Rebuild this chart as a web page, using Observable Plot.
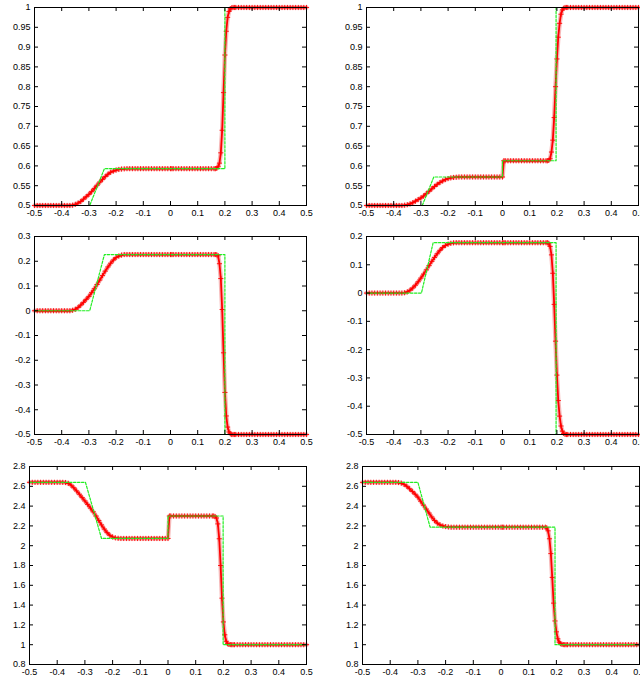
<!DOCTYPE html>
<html>
<head>
<meta charset="utf-8">
<script src="https://cdn.jsdelivr.net/npm/d3@7"></script>
<script src="https://cdn.jsdelivr.net/npm/@observablehq/plot@0.6"></script>
<style>
  html, body { margin: 0; padding: 0; background: #fff; overflow: hidden; }
  #root { position: relative; width: 640px; height: 682px; overflow: hidden; }
  #root > div, #root > svg { position: absolute; }
</style>
</head>
<body>
<div id="root"></div>
<script>
const xGrid = [
  -0.5,-0.49,-0.48,-0.47,-0.46,-0.45,-0.44,-0.43,-0.42,-0.41,-0.4,-0.39,-0.38,
  -0.37,-0.36,-0.35,-0.34,-0.33,-0.32,-0.31,-0.3,-0.29,-0.28,-0.27,-0.26,-0.25,-0.24,-0.23,-0.22,-0.21,-0.2,-0.19,-0.18,-0.17,
  -0.16,-0.15,-0.14,-0.13,-0.12,-0.11,-0.1,-0.09,-0.08,-0.07,-0.06,-0.05,-0.04,-0.03,-0.02,-0.01,0,
  0.005,
  0.01,0.02,0.03,0.04,0.05,0.06,0.07,0.08,0.09,0.1,0.11,0.12,0.13,0.14,0.15,0.16,
  0.165,0.17,0.175,0.18,0.185,0.19,0.195,0.2,0.205,0.21,0.215,0.22,0.225,0.23,0.235,
  0.24,0.25,0.26,0.27,0.28,0.29,0.3,0.31,0.32,0.33,0.34,0.35,0.36,0.37,0.38,0.39,0.4,0.41,0.42,0.43,0.44,0.45,0.46,0.47,0.48,0.49,0.5
];

// Numerical solutions (red), one per panel
const yA = [
  0.5,0.5,0.5,0.5,0.5, 0.5,0.5,0.5,0.5,0.5, 0.5,0.5,0.5,
  0.5,0.5008,0.503,0.506,0.51, 0.516,0.522,0.528,0.535,0.543, 0.551,0.559,0.566,0.573,0.579, 0.584,0.587,0.5895,0.591,0.592, 0.5925,
  0.593,0.593,0.593,0.593,0.593, 0.593,0.593,0.593,0.593,0.593, 0.593,0.593,0.593,0.593,0.593, 0.593,0.593,
  0.593,
  0.593,0.593,0.593,0.593,0.593, 0.593,0.593,0.593,0.593,0.593, 0.593,0.593,0.593,0.593,0.593, 0.593,
  0.593,0.594,0.598,0.607,0.633, 0.69,0.785,0.88,0.94,0.975, 0.99,0.997,0.999,1,1,
  1,1,1,1,1, 1,1,1,1,1, 1,1,1,1,1, 1,1,1,1,1, 1,1,1,1,1, 1,1
];
const yB = [
  0.5,0.5,0.5,0.5,0.5, 0.5,0.5,0.5,0.5,0.5, 0.5,0.5,0.5,
  0.5,0.5008,0.502,0.504,0.507, 0.511,0.515,0.519,0.524,0.53, 0.536,0.542,0.548,0.5535,0.558, 0.562,0.5655,0.568,0.5697,0.5708, 0.5715,
  0.572,0.572,0.572,0.572,0.572, 0.572,0.572,0.572,0.572,0.572, 0.572,0.572,0.572,0.572,0.572, 0.572,0.572,
  0.613,
  0.613,0.613,0.613,0.613,0.613, 0.613,0.613,0.613,0.613,0.613, 0.613,0.613,0.613,0.613,0.613, 0.613,
  0.613,0.614,0.618,0.635,0.665, 0.722,0.8,0.87,0.925,0.96, 0.983,0.994,0.998,1,1,
  1,1,1,1,1, 1,1,1,1,1, 1,1,1,1,1, 1,1,1,1,1, 1,1,1,1,1, 1,1
];
const yC = [
  0,0,0,0,0, 0,0,0,0,0, 0,0,0,
  0,0.002,0.006,0.013,0.023, 0.034,0.046,0.058,0.073,0.089, 0.106,0.124,0.142,0.16,0.177, 0.192,0.205,0.215,0.221,0.225, 0.227,
  0.227,0.227,0.227,0.227,0.227, 0.227,0.227,0.227,0.227,0.227, 0.227,0.227,0.227,0.227,0.227, 0.227,0.227,
  0.227,
  0.227,0.227,0.227,0.227,0.227, 0.227,0.227,0.227,0.227,0.227, 0.227,0.227,0.227,0.227,0.227, 0.227,
  0.227,0.226,0.222,0.19,0.13, 0.005,-0.17,-0.33,-0.425,-0.47, -0.49,-0.497,-0.5,-0.5,-0.5,
  -0.5,-0.5,-0.5,-0.5,-0.5, -0.5,-0.5,-0.5,-0.5,-0.5, -0.5,-0.5,-0.5,-0.5,-0.5, -0.5,-0.5,-0.5,-0.5,-0.5, -0.5,-0.5,-0.5,-0.5,-0.5, -0.5,-0.5
];
const yD = [
  0,0,0,0,0, 0,0,0,0,0, 0,0,0,
  0,0.001,0.004,0.01,0.018, 0.028,0.04,0.053,0.067,0.082, 0.097,0.112,0.126,0.139,0.151, 0.161,0.168,0.173,0.176,0.1775, 0.178,
  0.178,0.178,0.178,0.178,0.178, 0.178,0.178,0.178,0.178,0.178, 0.178,0.178,0.178,0.178,0.178, 0.178,0.178,
  0.178,
  0.178,0.178,0.178,0.178,0.178, 0.178,0.178,0.178,0.178,0.178, 0.178,0.178,0.178,0.178,0.178, 0.178,
  0.178,0.176,0.165,0.135,0.07, -0.04,-0.17,-0.29,-0.38,-0.435, -0.47,-0.488,-0.496,-0.499,-0.5,
  -0.5,-0.5,-0.5,-0.5,-0.5, -0.5,-0.5,-0.5,-0.5,-0.5, -0.5,-0.5,-0.5,-0.5,-0.5, -0.5,-0.5,-0.5,-0.5,-0.5, -0.5,-0.5,-0.5,-0.5,-0.5, -0.5,-0.5
];
const yE = [
  2.64,2.64,2.64,2.64,2.64, 2.64,2.64,2.64,2.64,2.64, 2.64,2.64,2.64,
  2.638,2.63,2.612,2.585,2.553, 2.52,2.486,2.452,2.417,2.38, 2.342,2.3,2.255,2.21,2.168, 2.132,2.105,2.088,2.079,2.075, 2.073,
  2.073,2.073,2.073,2.073,2.073, 2.073,2.073,2.073,2.073,2.073, 2.073,2.073,2.073,2.073,2.073, 2.073,2.073,
  2.3,
  2.3,2.3,2.3,2.3,2.3, 2.3,2.3,2.3,2.3,2.3, 2.3,2.3,2.3,2.3,2.3, 2.3,
  2.3,2.295,2.28,2.22,2.07, 1.8,1.47,1.23,1.1,1.035, 1.01,1.003,1.001,1,1,
  1,1,1,1,1, 1,1,1,1,1, 1,1,1,1,1, 1,1,1,1,1, 1,1,1,1,1, 1,1
];
const yF = [
  2.64,2.64,2.64,2.64,2.64, 2.64,2.64,2.64,2.64,2.64, 2.64,2.64,2.64,
  2.638,2.632,2.62,2.6,2.575, 2.548,2.52,2.49,2.45,2.41, 2.37,2.33,2.29,2.255,2.228, 2.21,2.199,2.193,2.189,2.187, 2.187,
  2.187,2.187,2.187,2.187,2.187, 2.187,2.187,2.187,2.187,2.187, 2.187,2.187,2.187,2.187,2.187, 2.187,2.187,
  2.187,
  2.187,2.187,2.187,2.187,2.187, 2.187,2.187,2.187,2.187,2.187, 2.187,2.187,2.187,2.187,2.187, 2.187,
  2.18,2.15,2.07,1.92,1.68, 1.42,1.24,1.13,1.06,1.025, 1.01,1.004,1.001,1,1,
  1,1,1,1,1, 1,1,1,1,1, 1,1,1,1,1, 1,1,1,1,1, 1,1,1,1,1, 1,1
];

// Exact solutions (green dashed)
const exXA = [-0.5,-0.297,-0.243,0.2,0.2,0.5];
const exYA = [0.5,0.5,0.593,0.593,1,1];
const exXB = [-0.5,-0.295,-0.2525,0,0,0.197,0.197,0.5];
const exYB = [0.5,0.5,0.572,0.572,0.613,0.613,1,1];
const exXC = [-0.5,-0.297,-0.243,0.2,0.2,0.5];
const exYC = [0,0,0.227,0.227,-0.5,-0.5];
const exXD = [-0.5,-0.298,-0.255,0.197,0.197,0.5];
const exYD = [0,0,0.178,0.178,-0.5,-0.5];
const exXE = [-0.5,-0.298,-0.24,0,0,0.199,0.199,0.5];
const exYE = [2.64,2.64,2.073,2.073,2.3,2.3,1,1];
const exXF = [-0.5,-0.3,-0.256,0.195,0.195,0.5];
const exYF = [2.64,2.64,2.187,2.187,1,1];

// Tick values
const xTicks = [-0.5,-0.4,-0.3,-0.2,-0.1,0,0.1,0.2,0.3,0.4,0.5];
const yTicksTop = [0.5,0.55,0.6,0.65,0.7,0.75,0.8,0.85,0.9,0.95,1];
const yTicksMidL = [-0.5,-0.4,-0.3,-0.2,-0.1,0,0.1,0.2,0.3];
const yTicksMidR = [-0.5,-0.4,-0.3,-0.2,-0.1,0,0.1,0.2];
const yTicksBot = [0.8,1,1.2,1.4,1.6,1.8,2,2.2,2.4,2.6,2.8];

const FONT = "'Liberation Sans', Arial, Helvetica, sans-serif";

function panel(o) {
  const red = xGrid.map((x, i) => ({x, y: o.ys[i]}));
  const green = o.ex.map((x, i) => ({x, y: o.ey[i]}));
  const pw = o.width - o.ml - o.mr;
  const ph = o.height - o.mt - o.mb;
  const fig = Plot.plot({
    width: o.width, height: o.height,
    marginTop: o.mt, marginBottom: o.mb, marginLeft: o.ml, marginRight: o.mr,
    x: {domain: [-0.5, 0.5], label: null},
    y: {domain: o.ydom, label: null},
    style: {fontFamily: FONT, fontSize: "9px", background: "white", overflow: "visible", color: "black"},
    marks: [
      Plot.line(red, {x: "x", y: "y", stroke: "#f3a0a0", strokeWidth: 4.5, strokeOpacity: 0.75}),
      Plot.line(red, {x: "x", y: "y", stroke: "#ff0000", strokeWidth: 1.8}),
      Plot.dot(red, {x: "x", y: "y", symbol: "plus", r: 1.8, stroke: "#ff0000", strokeWidth: 0.9}),
      Plot.line(green, {x: "x", y: "y", stroke: "#22ee22", strokeWidth: 1.2, strokeDasharray: "2.5,1.5"}),
      Plot.tickX(xTicks, {x: d => d, insetTop: ph - 4, stroke: "black"}),
      Plot.tickX(xTicks, {x: d => d, insetBottom: ph - 4, stroke: "black"}),
      Plot.tickY(o.yticks, {y: d => d, insetRight: pw - 4, stroke: "black"}),
      Plot.tickY(o.yticks, {y: d => d, insetLeft: pw - 4, stroke: "black"}),
      Plot.frame({stroke: "black"}),
      Plot.axisX(xTicks, {tickSize: 0, tickPadding: 4, label: null, tickFormat: d => String(d)}),
      Plot.axisY(o.yticks, {tickSize: 0, tickPadding: 4, label: null, tickFormat: d => String(d)})
    ]
  });
  fig.style.left = o.left + "px";
  fig.style.top = o.top + "px";
  document.getElementById("root").appendChild(fig);
}

panel({left: 0, top: 0, width: 320, height: 220, mt: 7, mb: 15, ml: 34, mr: 14,
  ydom: [0.5, 1], yticks: yTicksTop, ys: yA, ex: exXA, ey: exYA});
panel({left: 320, top: 0, width: 320, height: 220, mt: 7, mb: 15, ml: 46, mr: 2,
  ydom: [0.5, 1], yticks: yTicksTop, ys: yB, ex: exXB, ey: exYB});
panel({left: 0, top: 220, width: 320, height: 230, mt: 16, mb: 16, ml: 34, mr: 14,
  ydom: [-0.5, 0.3], yticks: yTicksMidL, ys: yC, ex: exXC, ey: exYC});
panel({left: 320, top: 220, width: 320, height: 230, mt: 16, mb: 16, ml: 46, mr: 2,
  ydom: [-0.5, 0.2], yticks: yTicksMidR, ys: yD, ex: exXD, ey: exYD});
panel({left: 0, top: 450, width: 320, height: 232, mt: 16, mb: 18, ml: 29, mr: 14,
  ydom: [0.8, 2.8], yticks: yTicksBot, ys: yE, ex: exXE, ey: exYE});
panel({left: 320, top: 450, width: 320, height: 232, mt: 16, mb: 18, ml: 42, mr: 1,
  ydom: [0.8, 2.8], yticks: yTicksBot, ys: yF, ex: exXF, ey: exYF});
</script>
</body>
</html>
